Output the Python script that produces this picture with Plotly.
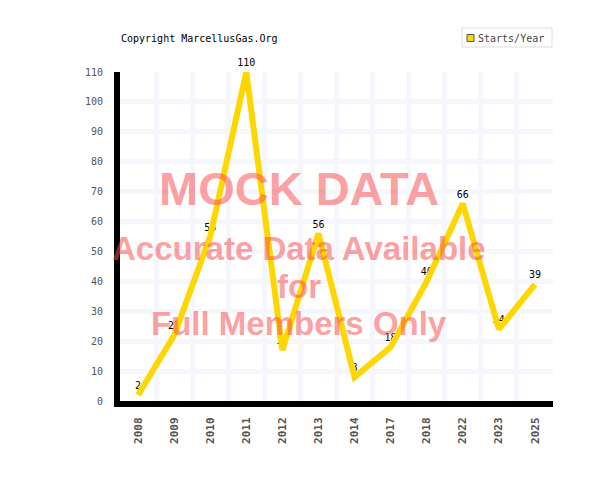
import plotly.graph_objects as go

# Well starts per year
years = ["2008", "2009", "2010", "2011", "2012", "2013", "2014",
         "2017", "2018", "2022", "2023", "2025"]
starts = [2, 22, 55, 110, 17, 56, 8, 18, 40, 66, 24, 39]
y_ticks = list(range(0, 111, 10))
series_name = "Starts/Year"

mono = "DejaVu Sans Mono"
gold = "#FFD700"

# plot area in pixels: x 120..553, y 72..401
L, R, T, B = 120, 553, 72, 401


def px(xp):
    return (xp - L) / (R - L)


def py(yp):
    return (B - yp) / (B - T)


fig = go.Figure()

# value labels sit beneath the line; an invisible marker lifts them off the point
fig.add_trace(go.Scatter(
    x=years, y=starts, mode="markers+text", text=[str(v) for v in starts],
    marker=dict(size=4, color="rgba(0,0,0,0)"),
    textposition="top center", textfont=dict(family=mono, size=10, color="black"),
    showlegend=False, cliponaxis=False, hoverinfo="skip",
))

fig.add_trace(go.Scatter(
    x=years, y=starts, mode="lines", name=series_name,
    line=dict(color=gold, width=6), cliponaxis=False, showlegend=False,
))

fig.update_layout(
    width=600, height=500,
    margin=dict(l=L, r=600 - R, t=T, b=500 - B),
    paper_bgcolor="white", plot_bgcolor="white",
    font=dict(family=mono, size=10, color="#555"),
    showlegend=False,
)

fig.update_xaxes(
    type="category", categoryorder="array", categoryarray=years,
    range=[-0.5, len(years) - 0.5],
    tickson="boundaries", showgrid=True, gridcolor="#f6f6fd", gridwidth=5,
    showline=True, linecolor="black", linewidth=6,
    tickangle=-90, ticks="", ticklen=0, ticklabelstandoff=6,
    tickfont=dict(family=mono, size=11, color="#555", weight="bold"),
    zeroline=False,
)
fig.update_yaxes(
    range=[0, 110], tickvals=y_ticks, ticktext=[str(v) for v in y_ticks],
    showgrid=True, gridcolor="#f6f6fd", gridwidth=5,
    showline=True, linecolor="black", linewidth=6,
    ticks="", ticklen=0, ticklabelstandoff=9,
    tickfont=dict(family=mono, size=10, color="#555"),
    zeroline=False,
)

# hand-drawn legend box
fig.add_shape(type="rect", xref="paper", yref="paper",
              x0=px(462), x1=px(552), y0=py(47), y1=py(28),
              line=dict(color="#dddddd", width=1), fillcolor="white")
fig.add_shape(type="rect", xref="paper", yref="paper",
              x0=px(467), x1=px(474), y0=py(41.5), y1=py(34.5),
              line=dict(color="#555", width=1), fillcolor=gold)
fig.add_annotation(
    text=series_name, xref="paper", yref="paper",
    x=px(476), y=py(38), xanchor="left", yanchor="middle", showarrow=False,
    font=dict(family=mono, size=10, color="#444"),
)

fig.add_annotation(
    text="Copyright MarcellusGas.Org", xref="paper", yref="paper",
    x=px(119), y=py(38), xanchor="left", yanchor="middle", showarrow=False,
    font=dict(family=mono, size=10, color="black"),
)

wm = "rgba(250, 80, 80, 0.55)"
for txt, yy, sz in [("MOCK DATA", 188, 47),
                    ("Accurate Data Available", 248, 33),
                    ("for", 286, 33),
                    ("Full Members Only", 323, 33)]:
    fig.add_annotation(
        text="<b>" + txt + "</b>", xref="paper", yref="paper",
        x=px(299), y=py(yy), xanchor="center", yanchor="middle", showarrow=False,
        font=dict(family="Liberation Sans", size=sz, color=wm),
    )

fig.write_html("out.html")
